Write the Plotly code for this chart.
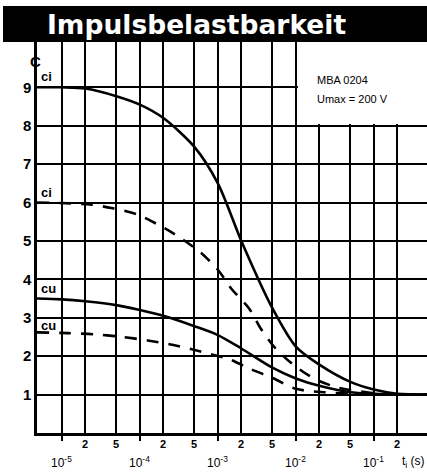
import plotly.graph_objects as go
import math

# ---- data ----
t_ci_solid = [4.8e-6, 1e-5, 2e-5, 5e-5, 1e-4, 2e-4, 5e-4, 1e-3, 2e-3, 5e-3, 1e-2, 2e-2, 5e-2, 1e-1, 2e-1, 4.8e-1]
c_ci_solid = [9.0, 9.0, 8.97, 8.77, 8.55, 8.2, 7.45, 6.5, 5.0, 3.25, 2.25, 1.78, 1.33, 1.13, 1.02, 1.0]

t_ci_dash = [4.8e-6, 2.3e-5, 4.5e-5, 9e-5, 1.8e-4, 3.2e-4, 6e-4, 1e-3, 1.5e-3, 2.5e-3, 3.6e-3, 5.5e-3, 9e-3, 1.7e-2, 3.6e-2, 9e-2, 2e-1, 4.8e-1]
c_ci_dash = [6.0, 5.95, 5.85, 5.7, 5.4, 5.1, 4.7, 4.25, 3.75, 3.25, 2.7, 2.2, 1.8, 1.42, 1.17, 1.05, 1.0, 1.0]

t_cu_solid = [4.8e-6, 1e-5, 2e-5, 5e-5, 1e-4, 2e-4, 5e-4, 1e-3, 2e-3, 5e-3, 1e-2, 2e-2, 5e-2, 1e-1, 2e-1, 4.8e-1]
c_cu_solid = [3.5, 3.48, 3.43, 3.33, 3.2, 3.05, 2.78, 2.55, 2.2, 1.7, 1.42, 1.23, 1.06, 1.02, 1.0, 1.0]

t_cu_dash = [4.8e-6, 1.2e-5, 2.6e-5, 5.5e-5, 1.26e-4, 2.6e-4, 6e-4, 1.4e-3, 2.6e-3, 5.2e-3, 1e-2, 2.3e-2, 6.6e-2, 2e-1, 4.8e-1]
c_cu_dash = [2.62, 2.6, 2.57, 2.51, 2.41, 2.3, 2.12, 1.92, 1.67, 1.42, 1.15, 1.06, 1.02, 1.0, 1.0]

decade_vals = [1e-5, 1e-4, 1e-3, 1e-2, 1e-1]
decade_labels = ["10<sup>-5</sup>", "10<sup>-4</sup>", "10<sup>-3</sup>", "10<sup>-2</sup>", "10<sup>-1</sup>"]
minor_vals = [2e-5, 5e-5, 2e-4, 5e-4, 2e-3, 5e-3, 2e-2, 5e-2, 2e-1]
minor_labels = ["2", "5", "2", "5", "2", "5", "2", "5", "2"]
y_ticks = [1, 2, 3, 4, 5, 6, 7, 8, 9]

curve_labels = [("ci", 9.27), ("ci", 6.25), ("cu", 3.75), ("cu", 2.81)]

FONT = "Liberation Sans"

fig = go.Figure()
for t, c, dash in [(t_ci_solid, c_ci_solid, "solid"), (t_ci_dash, c_ci_dash, "12px,10px"),
                   (t_cu_solid, c_cu_solid, "solid"), (t_cu_dash, c_cu_dash, "12px,10px")]:
    fig.add_trace(go.Scatter(x=t, y=c, mode="lines",
                             line=dict(color="black", width=2.6, dash=dash, shape="spline", smoothing=0.8),
                             showlegend=False, hoverinfo="skip"))

fig.update_layout(
    width=427, height=476,
    margin=dict(l=37, r=0, t=42, b=43),
    paper_bgcolor="white", plot_bgcolor="white",
    font=dict(family=FONT, color="black"),
    xaxis=dict(type="log", range=[math.log10(4.8e-6), math.log10(4.8e-1)],
               tickvals=decade_vals, ticktext=["" for _ in decade_vals],
               ticks="outside", ticklen=5, tickwidth=2, tickcolor="black",
               showgrid=True, gridcolor="black", gridwidth=1.9,
               minor=dict(tickvals=minor_vals, showgrid=True, gridcolor="black", gridwidth=1.9, ticks=""),
               showline=True, linecolor="black", linewidth=2.5, zeroline=False),
    yaxis=dict(range=[0, 10.18], tickvals=y_ticks, ticks="",
               tickfont=dict(size=15, family=FONT, weight="bold"),
               showgrid=True, gridcolor="black", gridwidth=1.9,
               showline=True, linecolor="black", linewidth=2.5, zeroline=False),
)

# title bar
fig.add_shape(type="rect", xref="paper", yref="paper", x0=-34 / 390, x1=1.01, y0=1.0, y1=(433 - 6) / 391,
              fillcolor="black", line=dict(width=0), layer="above")
fig.add_annotation(xref="paper", yref="paper", x=8 / 390, y=(433 - 24) / 391, xanchor="left", yanchor="middle",
                   text="Impulsbelastbarkeit", showarrow=False,
                   font=dict(family="DejaVu Sans", size=26.5, color="white", weight="bold"))

# info box
fig.add_shape(type="rect", xref="paper", yref="paper", x0=(298 - 37) / 390, x1=1.01, y0=(433 - 124) / 391, y1=1.0,
              fillcolor="white", line=dict(width=0), layer="above")
fig.add_annotation(xref="paper", yref="paper", x=(315 - 37) / 390, y=(433 - 80) / 391, xanchor="left",
                   yanchor="middle", text="MBA 0204", showarrow=False, font=dict(size=11, family=FONT))
fig.add_annotation(xref="paper", yref="paper", x=(315 - 37) / 390, y=(433 - 99) / 391, xanchor="left",
                   yanchor="middle", text="Umax = 200 V", showarrow=False, font=dict(size=11, family=FONT))

# axis title C
fig.add_annotation(xref="paper", yref="y", x=-9 / 390, y=9.66, text="C", showarrow=False,
                   font=dict(size=15, family=FONT, weight="bold"))

# curve labels
for txt, yv in curve_labels:
    fig.add_annotation(xref="paper", yref="y", x=2 / 390, y=yv, xanchor="left", yanchor="middle", text=txt,
                       showarrow=False, font=dict(size=13, family=FONT, weight="bold"))

# x tick labels
for v, lab in zip(minor_vals, minor_labels):
    fig.add_annotation(xref="x", yref="paper", x=math.log10(v), y=0, yshift=-11, yanchor="middle",
                       text=lab, showarrow=False, font=dict(size=11, family=FONT, weight="bold"))
for v, lab in zip(decade_vals, decade_labels):
    fig.add_annotation(xref="x", yref="paper", x=math.log10(v), y=0, yshift=-29, yanchor="middle",
                       text=lab, showarrow=False, font=dict(size=12, family=FONT))
fig.add_annotation(xref="paper", yref="paper", x=1.0, y=0, yshift=-29, xanchor="right", yanchor="middle",
                   text="t<sub>i</sub> (s)", showarrow=False, font=dict(size=12, family=FONT))

fig.write_html("out.html", config={"displayModeBar": False},
               post_script="document.body.style.margin='0';document.body.style.overflow='hidden';")
